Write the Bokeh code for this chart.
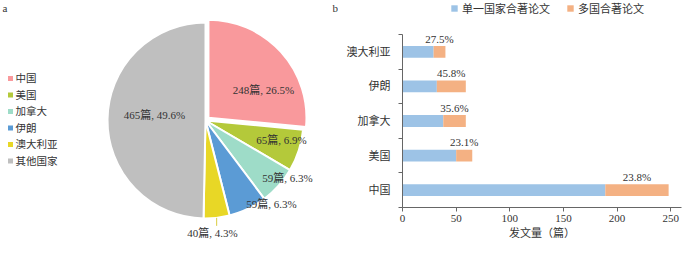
import numpy as np
from bokeh.plotting import figure
from bokeh.layouts import row
from bokeh.models import Range1d, FixedTicker, Legend, LegendItem, ColumnDataSource
from bokeh.core.properties import value
from bokeh.embed import file_html
from bokeh.resources import INLINE

# ---------------- data ----------------
pie_countries = ["中国", "美国", "加拿大", "伊朗", "澳大利亚", "其他国家"]
pie_counts = [248, 65, 59, 59, 40, 465]
pie_pcts = [26.5, 6.9, 6.3, 6.3, 4.3, 49.6]

bar_countries = ["中国", "美国", "加拿大", "伊朗", "澳大利亚"]
single_country = [189, 50, 38, 32, 29]
multi_country = [59, 15, 21, 27, 11]
x_ticks = [0, 50, 100, 150, 200, 250]
series_names = ["单一国家合著论文", "多国合著论文"]
x_title = "发文量（篇）"
panel_tags = ["a", "b"]

# ---------------- style ----------------
FONT = "Liberation Serif, Noto Sans CJK SC"
TXT = "#333333"
AXC = "#666666"
pie_colors = ["#F9999C", "#B4C93A", "#9EDCC8", "#5B9BD5", "#E8D726", "#BFBFBF"]
bar_colors = ["#9DC3E6", "#F4B183"]
# label offsets (px) from pie centre, y up
label_offsets = [(58, 31), (76, -19), (82, -57), (66, -83), (7, -112), (-51, 6)]
explode = [4, 0, 0, 0, 0, 0]

H = 241
W1 = 338
W2 = 346

# ---------------- pie (a) ----------------
p1 = figure(width=W1, height=H, x_range=Range1d(0, W1), y_range=Range1d(0, H),
            output_backend="svg", toolbar_location=None, min_border=0,
            x_axis_location=None, y_axis_location=None)
p1.frame_align = False
p1.grid.visible = False
p1.outline_line_color = None

cx, cy, R = 205, H - 120, 98
counts = np.array(pie_counts, dtype=float)
frac = counts / counts.sum()
cum = np.concatenate([[0], np.cumsum(frac)])
start = np.pi / 2 - 2 * np.pi * cum[1:]
end = np.pi / 2 - 2 * np.pi * cum[:-1]
mid = (start + end) / 2
ex = np.array(explode, dtype=float)
wx = cx + ex * np.cos(mid)
wy = cy + ex * np.sin(mid)
p1.wedge(x=wx, y=wy, radius=R, start_angle=start, end_angle=end,
         fill_color=pie_colors, line_color="white", line_width=2)

labels = [f"{n}篇, {pc:.1f}%" for n, pc in zip(pie_counts, pie_pcts)]
lx = [cx + o[0] for o in label_offsets]
ly = [cy + o[1] for o in label_offsets]
p1.text(x=lx, y=ly, text=labels, text_align="center", text_baseline="middle",
        text_font=value(FONT), text_font_size="11px", text_color=TXT)

# leader line for the small (澳大利亚) slice
i_au = pie_countries.index("澳大利亚")
x0 = cx + R * np.cos(mid[i_au])
y0 = cy + R * np.sin(mid[i_au])
p1.segment(x0=[x0], y0=[y0], x1=[x0], y1=[y0 - 8], line_color="#D9CC40", line_width=1)

# legend (manual)
leg_y = [H - 78 - 16.5 * i for i in range(len(pie_countries))]
p1.scatter(x=[10] * len(pie_countries), y=leg_y, marker="square", size=5,
           fill_color=pie_colors, line_color=None)
p1.text(x=[15] * len(pie_countries), y=leg_y, text=pie_countries, text_align="left",
        text_baseline="middle", text_font=value(FONT), text_font_size="10.5px",
        text_color=TXT)

p1.text(x=[2, 332], y=[H - 1, H - 1], text=panel_tags, text_align="left",
        text_baseline="top", text_font=value(FONT), text_font_size="11px",
        text_color=TXT)

# ---------------- bars (b) ----------------
n_cat = len(bar_countries)
band_px = 34.6
top_extra = 34 / band_px  # room above the bars for the legend
p2 = figure(width=W2, height=H, x_range=Range1d(0, 260),
            y_range=Range1d(-0.5, n_cat - 0.5 + top_extra),
            output_backend="svg", toolbar_location=None,
            min_border_left=64, min_border_right=3, min_border_top=0, min_border_bottom=34)
p2.frame_align = False
p2.grid.visible = False
p2.outline_line_color = None

ypos = np.arange(n_cat)
single = np.array(single_country)
total = single + np.array(multi_country)
src = ColumnDataSource(dict(y=ypos, single=single, total=total))
r1 = p2.hbar(y="y", left=0, right="single", height=0.34, source=src,
             fill_color=bar_colors[0], line_color=None)
r2 = p2.hbar(y="y", left="single", right="total", height=0.34, source=src,
             fill_color=bar_colors[1], line_color=None)

pct_labels = [f"{m / t * 100:.1f}%" for m, t in zip(multi_country, total)]
p2.text(x=(single + total) / 2, y=ypos + 0.38, text=pct_labels, text_align="center",
        text_baseline="middle", text_font=value(FONT), text_font_size="11px",
        text_color=TXT)

p2.xaxis.ticker = FixedTicker(ticks=x_ticks)
p2.xaxis.major_tick_out = 4
p2.xaxis.major_tick_in = 0
p2.xaxis.minor_tick_line_color = None
p2.xaxis.major_label_standoff = 3
p2.xaxis.axis_label = x_title
p2.xaxis.axis_label_standoff = 2
p2.xaxis.axis_label_text_font_style = "normal"
p2.xaxis.axis_label_text_font = FONT
p2.xaxis.axis_label_text_font_size = "11px"
p2.xaxis.axis_label_text_color = TXT

p2.yaxis.ticker = FixedTicker(ticks=list(ypos.astype(float)),
                              minor_ticks=list(np.arange(n_cat + 1) - 0.5))
p2.yaxis.bounds = (-0.5, n_cat - 0.5)
p2.yaxis.major_label_overrides = {float(i): c for i, c in zip(ypos, bar_countries)}
p2.yaxis.major_tick_out = 0
p2.yaxis.major_tick_in = 0
p2.yaxis.minor_tick_out = 4
p2.yaxis.minor_tick_in = 0
p2.yaxis.major_label_standoff = 8

for ax in (p2.xaxis, p2.yaxis):
    ax.axis_line_color = AXC
    ax.major_tick_line_color = AXC
    ax.major_label_text_font = FONT
    ax.major_label_text_font_size = "11px"
    ax.major_label_text_color = TXT
p2.yaxis.minor_tick_line_color = AXC

legend = Legend(items=[LegendItem(label=series_names[0], renderers=[r1]),
                       LegendItem(label=series_names[1], renderers=[r2])],
                orientation="horizontal", location=(48, 191),
                glyph_width=8, glyph_height=8, label_standoff=4, spacing=16,
                padding=0, margin=0, border_line_color=None, background_fill_alpha=0,
                label_text_font=FONT, label_text_font_size="11px",
                label_text_color=TXT, label_height=12)
p2.add_layout(legend)

layout = row(p1, p2)
open("out.html", "w").write(file_html(layout, INLINE))
